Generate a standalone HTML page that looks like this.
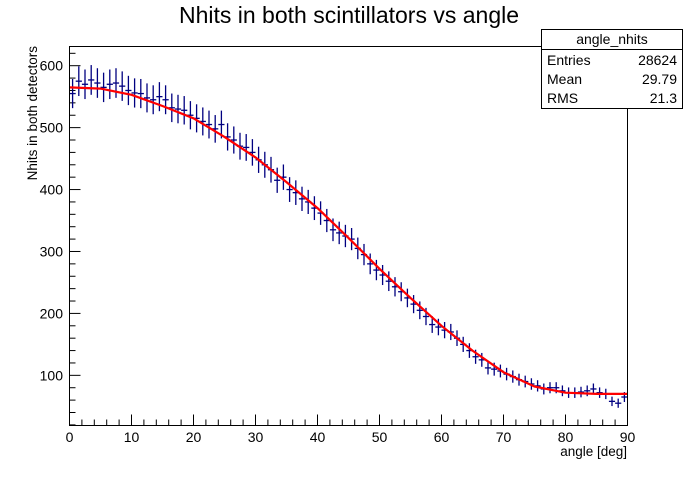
<!DOCTYPE html>
<html><head><meta charset="utf-8"><style>
html,body{margin:0;padding:0;background:#fff;}
svg text{font-family:"Liberation Sans",Arial,sans-serif;}
</style></head><body>
<svg id="chart" width="696" height="474" viewBox="0 0 696 474" xmlns="http://www.w3.org/2000/svg">
<rect x="0" y="0" width="696" height="474" fill="#fff"/>
<text x="349" y="23" font-size="23" text-anchor="middle">Nhits in both scintillators vs angle</text>
<text transform="translate(37,46) rotate(-90)" font-size="13.5" text-anchor="end">Nhits in both detectors</text>
<text x="627" y="456" font-size="13.5" text-anchor="end">angle [deg]</text>
<g id="axes"></g>
<g id="marks"></g>
<rect x="69.5" y="46.5" width="558" height="379" fill="none" stroke="#000" stroke-width="1"/>
<g>
<rect x="541.5" y="29.5" width="141" height="79" fill="#fff" stroke="#000"/>
<line x1="541.5" y1="49.5" x2="682.5" y2="49.5" stroke="#000"/>
<text x="612" y="44" font-size="14" text-anchor="middle">angle_nhits</text>
<text x="547" y="65" font-size="14">Entries</text>
<text x="677" y="65" font-size="14" text-anchor="end">28624</text>
<text x="547" y="84" font-size="14">Mean</text>
<text x="677" y="84" font-size="14" text-anchor="end">29.79</text>
<text x="547" y="103" font-size="14">RMS</text>
<text x="677" y="103" font-size="14" text-anchor="end">21.3</text>
</g>
</svg>
<script>
const binValues = [555,575,570,577,572,565,570,572,567,560,
556,555,548,545,550,545,532,530,528,520,
515,510,505,498,505,485,480,470,468,460,
448,440,432,415,420,400,395,385,380,370,
362,350,335,330,325,320,305,295,280,270,
262,252,243,235,225,215,205,195,182,178,
173,170,160,150,140,130,125,112,110,107,
102,98,93,90,86,83,78,80,80,75,
72,72,73,75,78,72,70,58,55,65];
const fitX = [0,5,10,15,20,25,30,35,40,45,50,55,60,65,70,75,80,85,90];
const fitY = [565,563,553,535,515,485,452,412,370,322,272,225,180,140,105,82,72,70,70];
const xTicks = [0,10,20,30,40,50,60,70,80,90];
const yTicks = [100,200,300,400,500,600];

const X0=69.5,X1=627.5,Y0=425.5,Y1=46.5,XMIN=0,XMAX=90,YMIN=19,YMAX=631;
const xs=v=>X0+(v-XMIN)/(XMAX-XMIN)*(X1-X0);
const ys=v=>Y0-(v-YMIN)/(YMAX-YMIN)*(Y0-Y1);
const NS="http://www.w3.org/2000/svg";
const axes=document.getElementById('axes'), marks=document.getElementById('marks');
function mk(tag,attrs,parent){const e=document.createElementNS(NS,tag);for(const k in attrs)e.setAttribute(k,attrs[k]);parent.appendChild(e);return e;}

for(let v=0;v<=90;v+=2){const L=(v%10===0)?11:6;
 const t=mk('line',{x1:xs(v),y1:Y0,x2:xs(v),y2:Y0-L,stroke:'#000'},axes);
 
 }
xTicks.forEach(v=>{const t=mk('text',{x:xs(v),y:442,'font-size':14,'text-anchor':'middle'},axes);t.textContent=v;
 
 });
for(let v=20;v<=620;v+=20){const L=(v%100===0)?11:6;
 const t=mk('line',{x1:X0,y1:ys(v),x2:X0+L,y2:ys(v),stroke:'#000'},axes);
 
 }
yTicks.forEach(v=>{const t=mk('text',{x:63,y:ys(v)+5,'font-size':14,'text-anchor':'end'},axes);t.textContent=v;
 
 });

binValues.forEach((v,i)=>{const g=mk('g',{stroke:'#000080','stroke-width':1.3},marks);
 
 
 const e=Math.sqrt(v),cx=xs(i+0.5);
 mk('line',{x1:cx,y1:ys(v-e),x2:cx,y2:ys(v+e)},g);
 mk('line',{x1:xs(i),y1:ys(v),x2:xs(i+1),y2:ys(v)},g);});

const pts=fitX.map((x,i)=>xs(x).toFixed(1)+','+ys(fitY[i]).toFixed(1)).join(' ');
const fit=mk('polyline',{points:pts,fill:'none',stroke:'#ff0000','stroke-width':2.2,'stroke-linejoin':'round'},marks);


</script>
</body></html>
